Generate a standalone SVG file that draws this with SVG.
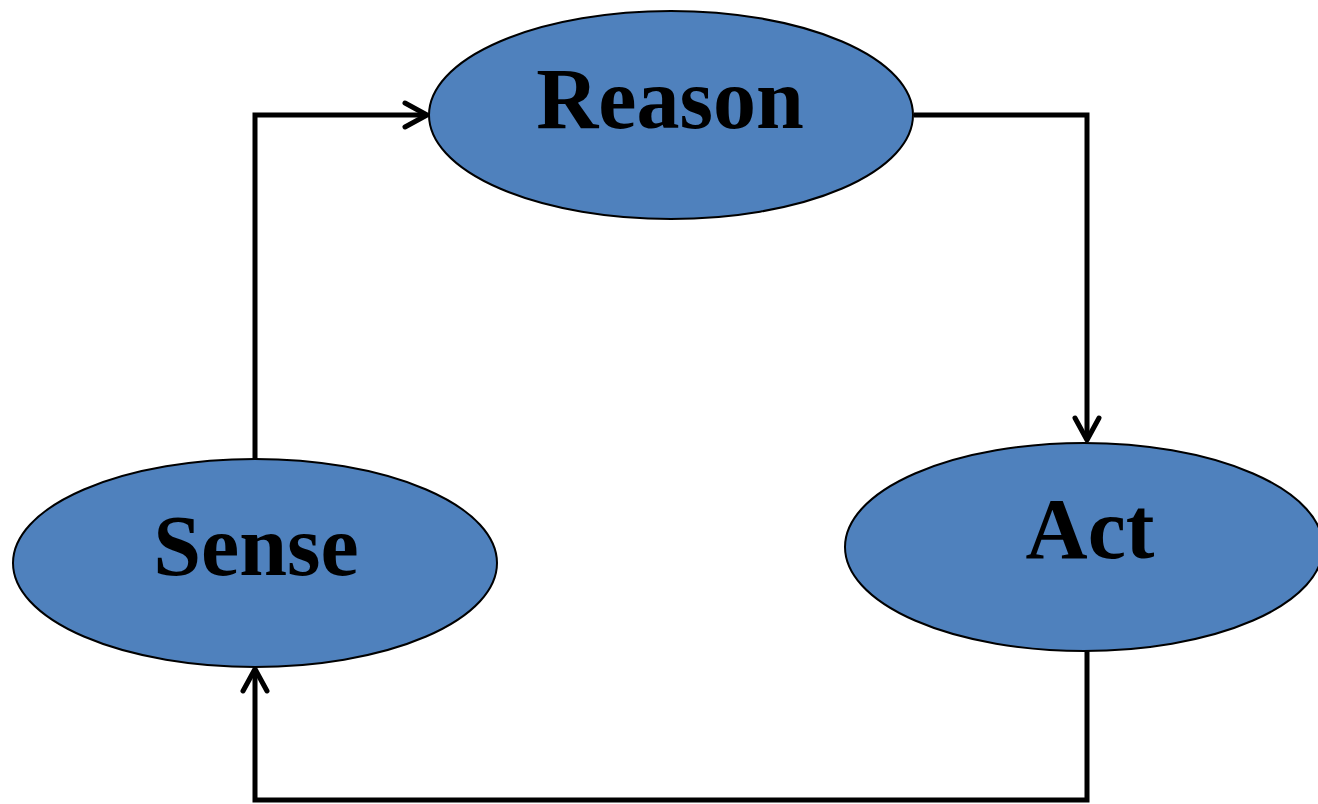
<svg xmlns="http://www.w3.org/2000/svg" width="1318" height="804" viewBox="0 0 1318 804">
<defs>
<style>
.node{fill:#4F81BD;stroke:#000;stroke-width:2}
.lbl{font-family:"Liberation Serif","Times New Roman",serif;font-weight:bold;font-size:86px;fill:#000;text-anchor:middle}
.conn{fill:none;stroke:#000;stroke-width:5;stroke-linejoin:miter}
.head{fill:none;stroke:#000;stroke-width:5;stroke-linecap:round;stroke-linejoin:round}
</style>
</defs>
<rect width="1318" height="804" fill="#fff"/>
<g id="connectors">
<polyline class="conn" points="255,459 255,115 427,115"/>
<polyline class="head" points="405,103 427,115 405,127"/>
<polyline class="conn" points="914,115 1087,115 1087,440"/>
<polyline class="head" points="1075,418 1087,440 1099,418"/>
<polyline class="conn" points="1087,651 1087,800 255,800 255,669"/>
<polyline class="head" points="243,691 255,669 267,691"/>
</g>
<g id="reason">
<ellipse class="node" cx="671" cy="115" rx="242" ry="104"/>
<text class="lbl" x="670" y="128">Reason</text>
</g>
<g id="sense">
<ellipse class="node" cx="255" cy="563" rx="242" ry="104"/>
<text class="lbl" x="256" y="575">Sense</text>
</g>
<g id="act">
<ellipse class="node" cx="1084" cy="547" rx="239" ry="104"/>
<text class="lbl" x="1090" y="558">Act</text>
</g>
</svg>
